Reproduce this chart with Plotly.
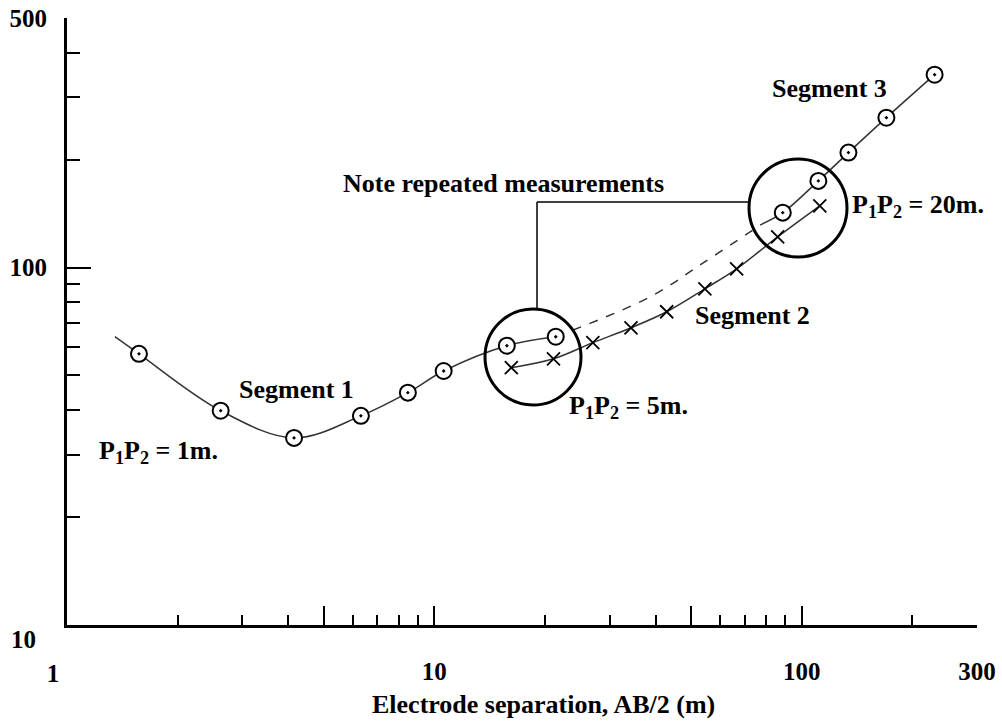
import plotly.graph_objects as go
import math

# ---------------- data ----------------
# Segment 1 (P1P2 = 1 m), circle-dot measurements
seg1_x = [1.57, 2.62, 4.15, 6.31, 8.47, 10.6, 15.75, 21.4]
seg1_y = [57.4, 39.8, 33.4, 38.5, 44.7, 51.4, 60.5, 64.1]
seg1_curve_start_x = [1.35]
seg1_curve_start_y = [64.1]

# Segment 2 (P1P2 = 5 m), cross measurements
seg2_x = [16.2, 21.1, 27.0, 34.3, 42.9, 54.5, 66.5, 86.0, 112.0]
seg2_y = [52.5, 55.6, 61.7, 67.9, 75.3, 87.3, 99.3, 122.0, 149.0]

# Segment 3 (P1P2 = 20 m), circle-dot measurements
seg3_x = [88.8, 111.0, 134.0, 170.0, 230.0]
seg3_y = [142.6, 175.0, 210.0, 263.0, 347.0]
seg3_curve_start_x = [77.9]
seg3_curve_start_y = [132.5]

# dashed connection between segment 1 and segment 3
dash_x = [21.4, 38.6, 53.8, 77.9]
dash_y = [64.1, 82.8, 103.0, 132.5]

# axis ticks
x_major_vals = [10, 100, 300]
x_major_text = ["10", "100", "300"]
x_origin_and_long_vals = [1, 5, 50]
x_origin_and_long_text = ["1", "", ""]
x_minor_vals = [2, 3, 4, 6, 7, 8, 9, 20, 30, 40, 60, 70, 80, 90, 200]
y_major_vals = [100, 500]
y_major_text = ["100", "500"]
y_origin_vals = [10]
y_origin_text = ["10"]
y_minor_vals = [20, 30, 40, 50, 60, 70, 80, 90, 200, 300, 400]

# ---------------- layout geometry ----------------
W, H = 1002, 722
ML, MR, MT, MB = 67, 25, 18, 97
PW = W - ML - MR
PH = H - MT - MB


def px(xp):
    return (xp - ML) / PW


def py(yp):
    return (H - MB - yp) / PH


FONT = "Liberation Serif"
LINE_COLOR = "#333333"
XR = [0, math.log10(300)]
YR = [1, math.log10(500)]

fig = go.Figure()

# segment 1 line
fig.add_trace(go.Scatter(
    x=seg1_curve_start_x + seg1_x, y=seg1_curve_start_y + seg1_y,
    mode="lines", line=dict(color=LINE_COLOR, width=1.5, shape="spline"),
    hoverinfo="skip", showlegend=False))
# dashed connection
fig.add_trace(go.Scatter(
    x=dash_x, y=dash_y, mode="lines",
    line=dict(color=LINE_COLOR, width=1.5, dash="dash", shape="spline"),
    hoverinfo="skip", showlegend=False))
# segment 3 line
fig.add_trace(go.Scatter(
    x=seg3_curve_start_x + seg3_x, y=seg3_curve_start_y + seg3_y,
    mode="lines", line=dict(color=LINE_COLOR, width=1.5, shape="spline"),
    hoverinfo="skip", showlegend=False))
# segment 2 line + markers
fig.add_trace(go.Scatter(
    x=seg2_x, y=seg2_y, mode="lines+markers",
    line=dict(color=LINE_COLOR, width=1.5, shape="spline"),
    marker=dict(symbol="x-thin", size=13, line=dict(color="black", width=1.8)),
    name="Segment 2", showlegend=False))
# circle-dot markers
fig.add_trace(go.Scatter(
    x=seg1_x, y=seg1_y, mode="markers",
    marker=dict(symbol="circle-dot", size=16, color="white",
                line=dict(color="black", width=2)),
    name="Segment 1", showlegend=False))
fig.add_trace(go.Scatter(
    x=seg3_x, y=seg3_y, mode="markers",
    marker=dict(symbol="circle-dot", size=16, color="white",
                line=dict(color="black", width=2)),
    name="Segment 3", showlegend=False))
# empty traces that register the overlay axes
fig.add_trace(go.Scatter(x=[], y=[], xaxis="x2", yaxis="y", showlegend=False,
                         hoverinfo="skip"))
fig.add_trace(go.Scatter(x=[], y=[], xaxis="x", yaxis="y2", showlegend=False,
                         hoverinfo="skip"))

tickfont = dict(family=FONT, size=25, color="black", weight="bold")

fig.update_layout(
    xaxis=dict(
        type="log", range=XR, autorange=False, automargin=False,
        showline=True, linecolor="black", linewidth=3,
        showgrid=False, zeroline=False,
        tickmode="array", tickvals=x_major_vals, ticktext=x_major_text,
        ticks="inside", ticklen=19, tickwidth=2, tickcolor="black",
        minor=dict(tickmode="array", tickvals=x_minor_vals, ticks="inside",
                   ticklen=10, tickwidth=2, tickcolor="black", showgrid=False),
        tickfont=tickfont, ticklabelstandoff=22,
    ),
    xaxis2=dict(
        type="log", range=XR, autorange=False, automargin=False,
        overlaying="x", anchor="y", side="bottom",
        showline=False, showgrid=False, zeroline=False,
        tickmode="array", tickvals=x_origin_and_long_vals,
        ticktext=x_origin_and_long_text,
        ticks="inside", ticklen=19, tickwidth=2, tickcolor="black",
        tickfont=tickfont, ticklabelstandoff=31, ticklabelshift=-14,
    ),
    yaxis=dict(
        type="log", range=YR, autorange=False, automargin=False,
        showline=True, linecolor="black", linewidth=3,
        showgrid=False, zeroline=False,
        tickmode="array", tickvals=y_major_vals, ticktext=y_major_text,
        ticks="inside", ticklen=24, tickwidth=2, tickcolor="black",
        minor=dict(tickmode="array", tickvals=y_minor_vals, ticks="inside",
                   ticklen=13, tickwidth=2, tickcolor="black", showgrid=False),
        tickfont=tickfont, ticklabelstandoff=12,
    ),
    yaxis2=dict(
        type="log", range=YR, autorange=False, automargin=False,
        overlaying="y", anchor="x", side="left",
        showline=False, showgrid=False, zeroline=False,
        tickmode="array", tickvals=y_origin_vals, ticktext=y_origin_text,
        ticks="", tickfont=tickfont, ticklabelstandoff=30, ticklabelshift=14,
    ),
)

# text labels
labels = [
    ("Segment 1", 296, 389),
    ("P<sub>1</sub>P<sub>2</sub> = 1m.", 158, 452),
    ("P<sub>1</sub>P<sub>2</sub> = 5m.", 628, 407),
    ("Segment 2", 752, 315),
    ("Segment 3", 829, 88),
    ("P<sub>1</sub>P<sub>2</sub> = 20m.", 918, 206),
    ("Note repeated measurements", 503, 183),
    ("Electrode separation, AB/2 (m)", 543, 704),
]
for txt, xp, yp in labels:
    fig.add_annotation(text=txt, x=px(xp), y=py(yp), xref="paper", yref="paper",
                       showarrow=False, xanchor="center", yanchor="middle",
                       font=dict(family=FONT, size=26, color="black", weight="bold"))

# highlight circles
for cx, cy, r in [(533, 357, 48), (798, 208, 49)]:
    fig.add_shape(type="circle", xref="paper", yref="paper",
                  x0=px(cx - r), x1=px(cx + r), y0=py(cy + r), y1=py(cy - r),
                  line=dict(color="black", width=3))

# leader lines
fig.add_shape(type="line", xref="paper", yref="paper",
              x0=px(537), y0=py(310), x1=px(537), y1=py(202),
              line=dict(color="black", width=1.5))
fig.add_shape(type="line", xref="paper", yref="paper",
              x0=px(537), y0=py(202), x1=px(749), y1=py(202),
              line=dict(color="black", width=1.5))

fig.update_layout(
    width=W, height=H,
    margin=dict(l=ML, r=MR, t=MT, b=MB, autoexpand=False),
    paper_bgcolor="white", plot_bgcolor="white",
    showlegend=False,
)

fig.write_html("out.html")
